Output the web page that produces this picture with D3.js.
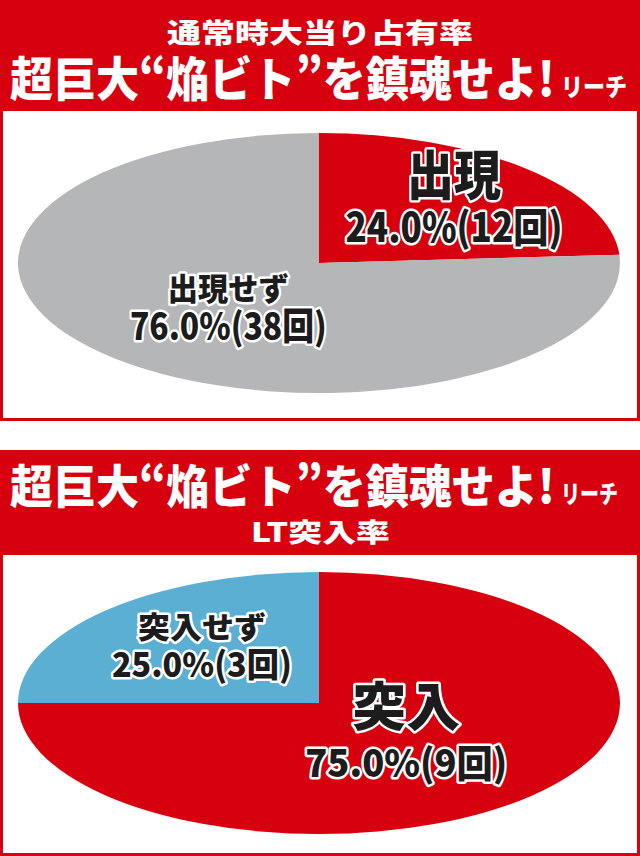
<!DOCTYPE html>
<html lang="ja">
<head>
  <meta charset="UTF-8">
  <title>超巨大“焔ビト”を鎮魂せよ!リーチ</title>
  <script src="https://cdn.jsdelivr.net/npm/d3@7"></script>
  <style>
    body { margin: 0; background: #fff; }
    svg { display: block; font-family: "Noto Sans CJK JP", "Noto Sans CJK SC", sans-serif; }
  </style>
</head>
<body>
<svg id="chart" width="640" height="856"></svg>
<script>
  // 通常時大当り占有率
  var hitLabels = ["出現", "出現せず"];
  var hitCounts = [12, 38];
  var hitColors = ["#d7000f", "#b5b6b7"];

  // LT突入率
  var ltLabels = ["突入", "突入せず"];
  var ltCounts = [9, 3];
  var ltColors = ["#d7000f", "#5aafd3"];

  var W = 640;
  var red = "#d7000f";
  var svg = d3.select("#chart");

  // the original uses a condensed font, so squeeze each text to its width
  function fit(t, x0, w) {
    var bw = t.node().getBBox().width;
    t.attr("transform", "translate(" + x0 + ",0) scale(" + (w / bw) + ",1)");
  }

  function panel(cfg) {
    var g = svg.append("g");

    // red frame + header
    g.append("rect")
        .attr("x", 0).attr("y", cfg.top)
        .attr("width", W).attr("height", cfg.bottom - cfg.top)
        .attr("fill", red);
    g.append("rect")
        .attr("x", 3).attr("y", cfg.boxTop)
        .attr("width", W - 6).attr("height", cfg.bottom - 3 - cfg.boxTop)
        .attr("fill", "#fff");

    cfg.titles.forEach(function(d) {
      var t = g.append("text")
          .attr("x", 0).attr("y", d.y)
          .attr("fill", "#fff")
          .style("font-size", d.size + "px")
          .style("font-weight", 900)
          .text(d.text);
      fit(t, d.x0, d.w);
    });

    // pie squashed into an ellipse
    var rx = cfg.rx, ry = cfg.ry;
    var total = d3.sum(cfg.counts);
    var arcs = d3.pie().sort(null).value(function(d) { return d; })(cfg.counts);
    var arc = d3.arc().innerRadius(0).outerRadius(rx);

    g.append("g")
        .attr("transform", "translate(" + cfg.cx + "," + cfg.cy + ") scale(1," + (ry / rx) + ")")
        .selectAll("path")
        .data(arcs)
        .join("path")
        .attr("d", arc)
        .attr("fill", function(d, i) { return cfg.colors[i]; });

    // labels
    arcs.forEach(function(d, i) {
      var st = cfg.labelStyle[i];
      var mid = (d.startAngle + d.endAngle) / 2;
      var ax = cfg.cx + rx * st.fx * Math.sin(mid);
      var ay = cfg.cy - ry * st.fy * Math.cos(mid);
      var pct = (d.data / total * 100).toFixed(1) + "%(" + d.data + "回)";

      var lines = [
        { text: cfg.labels[i], size: st.s1, y: ay + st.o1, w: st.w1 },
        { text: pct, size: st.s2, y: ay + st.o2, w: st.w2 }
      ];
      lines.forEach(function(l) {
        var t = g.append("text")
            .attr("x", 0).attr("y", l.y)
            .attr("text-anchor", "middle")
            .attr("fill", "#1c1c1c")
            .attr("stroke", "#fff")
            .attr("stroke-width", 5)
            .attr("stroke-linejoin", "round")
            .attr("paint-order", "stroke")
            .style("font-size", l.size + "px")
            .style("font-weight", 900)
            .text(l.text);
        var bw = t.node().getBBox().width;
        t.attr("transform", "translate(" + ax + ",0) scale(" + (l.w / bw) + ",1)");
      });
    });
  }

  panel({
    top: 0, boxTop: 111, bottom: 421,
    titles: [
      { text: "通常時大当り占有率", size: 27, y: 43, x0: 167, w: 306 },
      { text: "超巨大“焔ビト”を鎮魂せよ!", size: 47, y: 96, x0: 10, w: 545 },
      { text: "リーチ", size: 25, y: 96, x0: 561, w: 66 }
    ],
    cx: 319, cy: 263, rx: 301, ry: 130,
    labels: hitLabels, counts: hitCounts, colors: hitColors,
    labelStyle: [
      { fx: 0.655, fy: 0.475, s1: 54, s2: 40, o1: -23, o2: 24, w1: 94, w2: 217 },
      { fx: 0.44, fy: 0.60, s1: 31, s2: 37, o1: -20, o2: 20, w1: 121, w2: 197 }
    ]
  });

  panel({
    top: 450, boxTop: 555, bottom: 856,
    titles: [
      { text: "超巨大“焔ビト”を鎮魂せよ!", size: 46, y: 503, x0: 10, w: 545 },
      { text: "リーチ", size: 25, y: 503, x0: 561, w: 57 },
      { text: "LT突入率", size: 26, y: 542, x0: 251, w: 139 }
    ],
    cx: 319, cy: 703, rx: 301, ry: 131,
    labels: ltLabels, counts: ltCounts, colors: ltColors,
    labelStyle: [
      { fx: 0.41, fy: 0.51, s1: 52, s2: 38, o1: -24, o2: 27, w1: 108, w2: 202 },
      { fx: 0.55, fy: 0.49, s1: 30, s2: 34, o1: -20, o2: 19, w1: 128, w2: 180 }
    ]
  });
</script>
</body>
</html>
